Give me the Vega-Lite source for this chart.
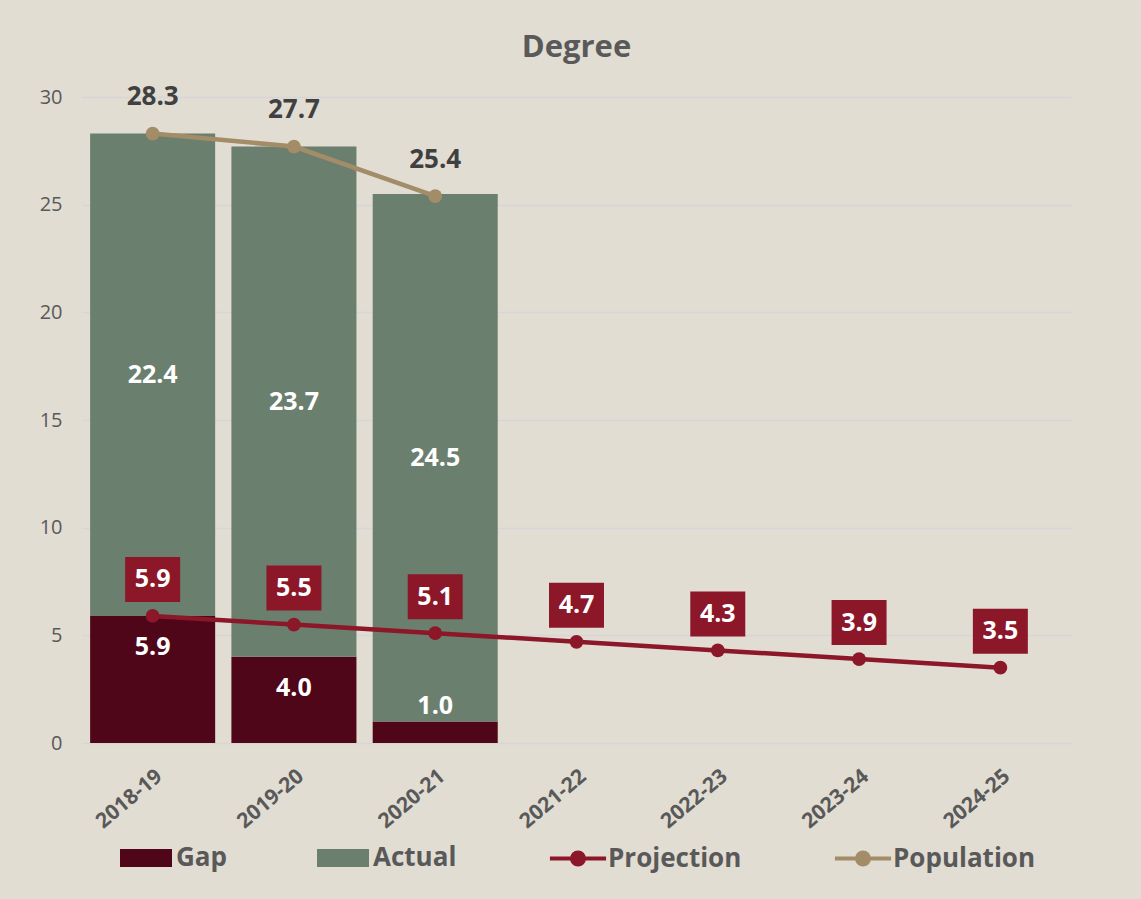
{
  "$schema": "https://vega.github.io/schema/vega-lite/v6.json",
  "width": 989,
  "height": 646,
  "autosize": {"type": "none"},
  "padding": {"left": 82, "top": 97, "right": 70, "bottom": 156},
  "background": "#e2ddd3",
  "config": {
    "font": "Open Sans",
    "view": {"stroke": null}
  },
  "title": {
    "text": "Degree",
    "fontSize": 31,
    "fontWeight": "bold",
    "color": "#595959",
    "anchor": "middle",
    "frame": "group",
    "baseline": "alphabetic",
    "offset": -4
  },
  "datasets": {
    "bars": [
      {"year": "2018-19", "series": "Gap", "value": 5.9},
      {"year": "2018-19", "series": "Actual", "value": 22.4},
      {"year": "2019-20", "series": "Gap", "value": 4.0},
      {"year": "2019-20", "series": "Actual", "value": 23.7},
      {"year": "2020-21", "series": "Gap", "value": 1.0},
      {"year": "2020-21", "series": "Actual", "value": 24.5}
    ],
    "lines": [
      {"year": "2018-19", "Projection": 5.9, "Population": 28.3},
      {"year": "2019-20", "Projection": 5.5, "Population": 27.7},
      {"year": "2020-21", "Projection": 5.1, "Population": 25.4},
      {"year": "2021-22", "Projection": 4.7, "Population": null},
      {"year": "2022-23", "Projection": 4.3, "Population": null},
      {"year": "2023-24", "Projection": 3.9, "Population": null},
      {"year": "2024-25", "Projection": 3.5, "Population": null}
    ]
  },
  "encoding": {
    "x": {
      "field": "year",
      "type": "ordinal",
      "scale": {
        "domain": ["2018-19", "2019-20", "2020-21", "2021-22", "2022-23", "2023-24", "2024-25"],
        "paddingInner": 0.115,
        "paddingOuter": 0.0575
      },
      "axis": {
        "title": null,
        "labelAngle": -40,
        "labelFontSize": 21,
        "labelFontWeight": "bold",
        "labelColor": "#595959",
        "labelPadding": 22,
        "domain": false,
        "ticks": false,
        "grid": false
      }
    }
  },
  "layer": [
    {
      "data": {"name": "bars"},
      "mark": {"type": "bar"},
      "encoding": {
        "y": {
          "field": "value",
          "type": "quantitative",
          "stack": "zero",
          "scale": {"domain": [0, 30], "nice": false},
          "axis": {
            "title": null,
            "values": [0, 5, 10, 15, 20, 25, 30],
            "labelFontSize": 20,
            "labelColor": "#595959",
            "labelPadding": 20,
            "domain": false,
            "ticks": false,
            "gridColor": "#d6d6d6",
            "gridWidth": 1.5
          }
        },
        "color": {
          "field": "series",
          "type": "nominal",
          "scale": {
            "domain": ["Gap", "Actual", "Projection", "Population"],
            "range": ["#4e0618", "#6b7f6e", "#8b1729", "#a38c68"]
          },
          "legend": {
            "orient": "none",
            "legendX": 36,
            "legendY": 733,
            "direction": "horizontal",
            "columns": 4,
            "title": null,
            "labelFont": "Open Sans",
            "labelFontSize": 26,
            "labelFontWeight": "bold",
            "labelColor": "#595959",
            "labelLimit": 400,
            "labelOffset": 2,
            "symbolSize": 2704,
            "symbolStrokeWidth": 4,
            "columnPadding": 84,
            "padding": 0,
            "encode": {
              "symbols": {
                "update": {
                  "shape": {"signal": "(datum.value == 'Gap' || datum.value == 'Actual') ? 'M-0.923,-0.269H0.923V0.269H-0.923Z' : 'M-1.08,0H1.08M-0.23,0A0.23,0.23 0 1,1 0.23,0A0.23,0.23 0 1,1 -0.23,0Z'"},
                  "fill": {"signal": "scale('color', datum.value)"},
                  "stroke": {"signal": "scale('color', datum.value)"},
                  "strokeWidth": {"value": 4},
                  "opacity": {"value": 1},
                  "fillOpacity": {"value": 1},
                  "strokeOpacity": {"value": 1}
                }
              }
            }
          }
        },
        "order": {"field": "series", "sort": "descending"}
      }
    },
    {
      "data": {"name": "bars"},
      "transform": [
        {"stack": "value", "groupby": ["year"], "sort": [{"field": "series", "order": "descending"}], "as": ["v0", "v1"]},
        {"filter": "datum.series == 'Actual'"},
        {"calculate": "(datum.v0 + datum.v1) / 2", "as": "mid"}
      ],
      "mark": {"type": "text", "color": "white", "fontSize": 25, "fontWeight": "bold", "baseline": "middle"},
      "encoding": {
        "y": {"field": "mid", "type": "quantitative"},
        "text": {"field": "value", "type": "quantitative", "format": ".1f"}
      }
    },
    {
      "data": {"name": "bars"},
      "transform": [{"filter": "datum.series == 'Gap' && datum.value >= 2"}],
      "mark": {"type": "text", "color": "white", "fontSize": 25, "fontWeight": "bold", "baseline": "middle", "dy": 31},
      "encoding": {
        "y": {"field": "value", "type": "quantitative"},
        "text": {"field": "value", "type": "quantitative", "format": ".1f"}
      }
    },
    {
      "data": {"name": "bars"},
      "transform": [{"filter": "datum.series == 'Gap' && datum.value < 2"}],
      "mark": {"type": "text", "color": "white", "fontSize": 25, "fontWeight": "bold", "baseline": "middle", "dy": -15},
      "encoding": {
        "y": {"field": "value", "type": "quantitative"},
        "text": {"field": "value", "type": "quantitative", "format": ".1f"}
      }
    },
    {
      "data": {"name": "lines"},
      "transform": [
        {"fold": ["Projection", "Population"], "as": ["series", "value"]},
        {"filter": "isValid(datum.value)"}
      ],
      "mark": {"type": "line", "strokeWidth": 4.5},
      "encoding": {
        "y": {"field": "value", "type": "quantitative"},
        "color": {"field": "series", "type": "nominal"}
      }
    },
    {
      "data": {"name": "lines"},
      "transform": [
        {"fold": ["Projection", "Population"], "as": ["series", "value"]},
        {"filter": "isValid(datum.value)"}
      ],
      "mark": {"type": "point", "filled": true, "shape": "circle", "size": 190, "opacity": 1},
      "encoding": {
        "y": {"field": "value", "type": "quantitative"},
        "color": {"field": "series", "type": "nominal"}
      }
    },
    {
      "data": {"name": "lines"},
      "transform": [{"filter": "isValid(datum.Population)"}],
      "mark": {"type": "text", "color": "#404040", "fontSize": 26, "fontWeight": "bold", "baseline": "middle", "dy": -36.5},
      "encoding": {
        "y": {"field": "Population", "type": "quantitative"},
        "text": {"field": "Population", "type": "quantitative", "format": ".1f"}
      }
    },
    {
      "data": {"name": "lines"},
      "mark": {"type": "point", "filled": true, "opacity": 1, "color": "#8b1729", "size": 2025, "shape": "M-1.222,-2.622H1.222V-0.622H-1.222Z"},
      "encoding": {
        "y": {"field": "Projection", "type": "quantitative"}
      }
    },
    {
      "data": {"name": "lines"},
      "mark": {"type": "text", "color": "white", "fontSize": 25, "fontWeight": "bold", "baseline": "middle", "dy": -36.5},
      "encoding": {
        "y": {"field": "Projection", "type": "quantitative"},
        "text": {"field": "Projection", "type": "quantitative", "format": ".1f"}
      }
    }
  ]
}
